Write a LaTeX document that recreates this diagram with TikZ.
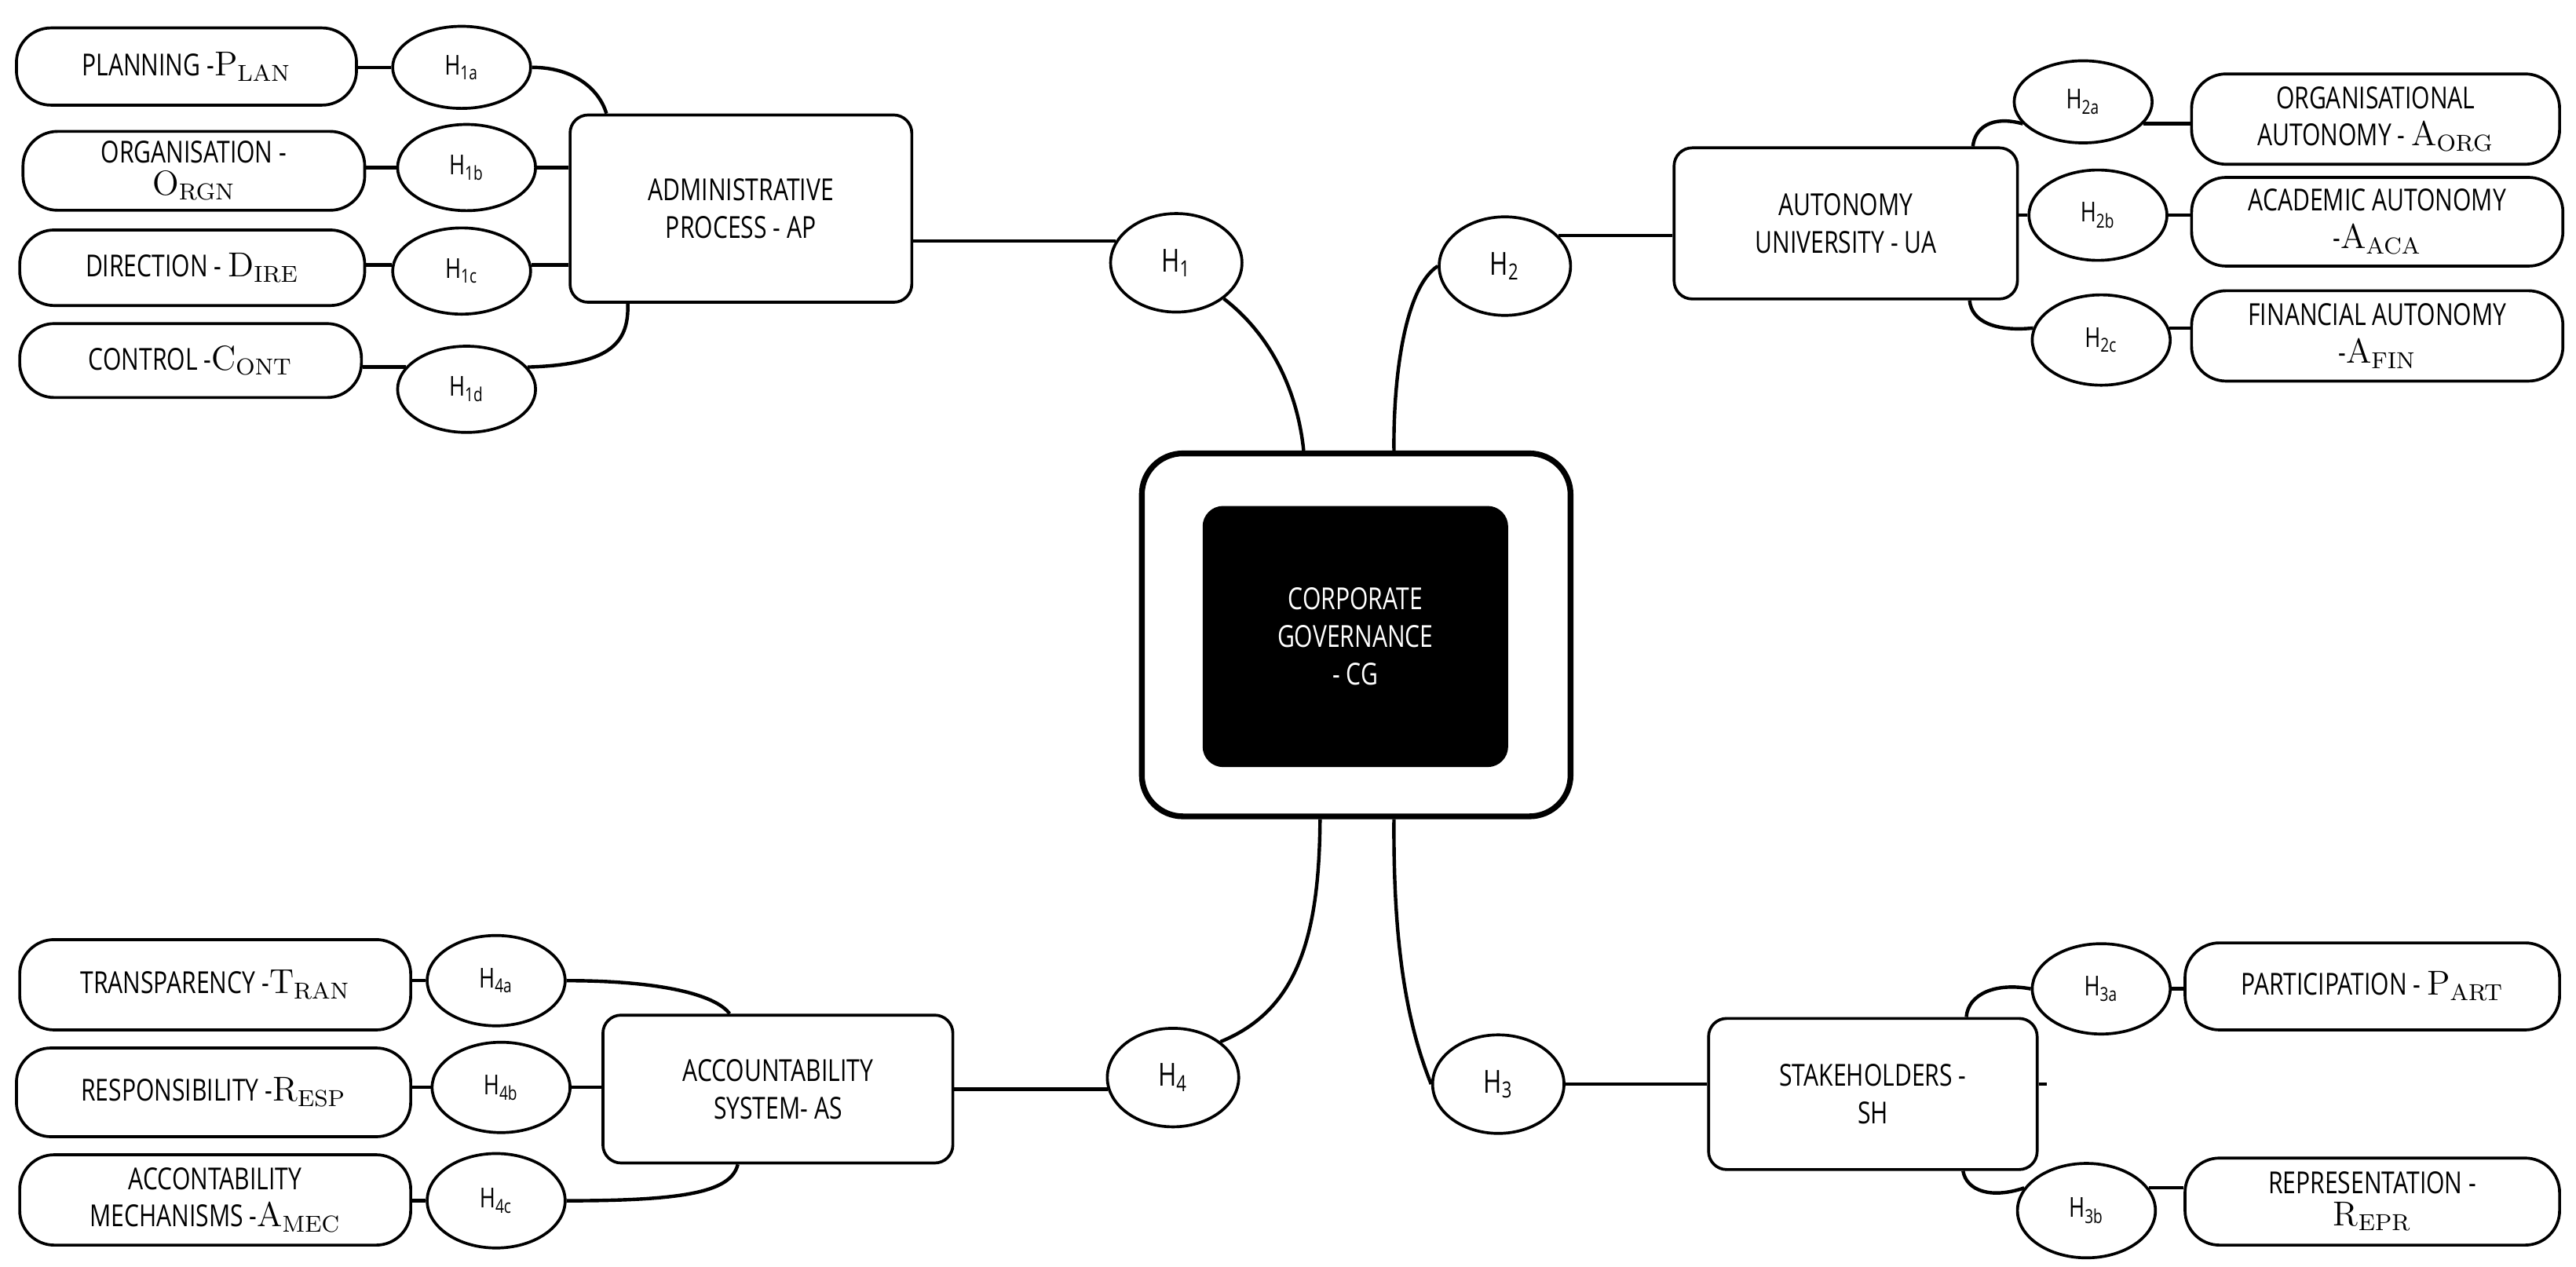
\documentclass[tikz,border=0pt]{standalone}
\usepackage{fontspec}
\usetikzlibrary{shapes.geometric}
\setsansfont{Open Sans}[FakeStretch=0.78]
\newcommand{\sbx}[2]{{\rmfamily\fontsize{12}{12}\selectfont #1\textsubscript{\fontsize{8}{8}\selectfont #2}}}
\begin{document}
\begin{tikzpicture}[x=0.02cm,y=-0.02cm,
  every node/.style={font=\sffamily\fontsize{10.5}{13}\selectfont, align=center, inner sep=1pt},
  leaf/.style={draw, line width=1pt, rounded corners=0.42cm},
  mid/.style={draw, line width=1pt, rounded corners=0.22cm},
  hyp/.style={draw, ellipse, line width=1pt, inner sep=0pt, font=\sffamily\fontsize{9.5}{11}\selectfont},
  big/.style={draw, ellipse, line width=1pt, inner sep=0pt, minimum width=1.6cm, minimum height=1.2cm, font=\sffamily\fontsize{11}{12}\selectfont},
  con/.style={line width=1.2pt}]
\useasboundingbox (0,0) rectangle (1568,771);
\newcommand{\bx}[7]{\node[#1, minimum width={(#4-#2)*0.02cm}, minimum height={(#5-#3)*0.02cm}] (#6) at ({(#2+#4)/2},{(#3+#5)/2}) {#7};}
\newcommand{\hy}[4]{\node[hyp, minimum width=1.68cm, minimum height=#4] (#1) at (#2) {#3};}
% centre
\node[draw, line width=2pt, rounded corners=0.5cm, minimum width=5.22cm, minimum height=4.42cm] (cg) at (825.5,386.5) {};
\node[fill=black, rounded corners=0.25cm, minimum width=3.72cm, minimum height=3.18cm, text=white, font=\sffamily\fontsize{10.5}{13}\selectfont] (cgi) at (825,387.5) {CORPORATE\\GOVERNANCE\\- CG};
% main boxes
\bx{mid}{347}{70}{555}{184}{ap}{ADMINISTRATIVE\\PROCESS - AP}
\bx{mid}{1019}{90}{1228}{182}{ua}{AUTONOMY\\UNIVERSITY - UA}
\bx{mid}{1040}{620}{1240}{712}{sh}{STAKEHOLDERS -\\SH}
\bx{mid}{367}{618}{580}{708}{as}{ACCOUNTABILITY\\SYSTEM- AS}
% H nodes
\node[big] (h1) at (716,160) {H\textsubscript{1}};
\node[big] (h2) at (916,162) {H\textsubscript{2}};
\node[big] (h3) at (912,660) {H\textsubscript{3}};
\node[big] (h4) at (714,656) {H\textsubscript{4}};
% leaves AP
\bx{leaf}{10}{17}{217}{64}{pl}{PLANNING -\sbx{P}{LAN}}
\bx{leaf}{14}{80}{222}{128}{or}{ORGANISATION -\\[-2pt]\sbx{O}{RGN}}
\bx{leaf}{12}{140}{222}{186}{di}{DIRECTION - \sbx{D}{IRE}}
\bx{leaf}{12}{197}{220}{242}{co}{CONTROL -\sbx{C}{ONT}}
\hy{h1a}{281,41}{H\textsubscript{1a}}{1.0cm}
\hy{h1b}{284,102}{H\textsubscript{1b}}{1.05cm}
\hy{h1c}{281,165}{H\textsubscript{1c}}{1.05cm}
\hy{h1d}{284,237}{H\textsubscript{1d}}{1.05cm}
% leaves UA
\bx{leaf}{1334}{45}{1558}{100}{ao}{ORGANISATIONAL\\AUTONOMY - \sbx{A}{ORG}}
\bx{leaf}{1334}{108}{1560}{162}{aa}{ACADEMIC AUTONOMY\\-\sbx{A}{ACA}}
\bx{leaf}{1334}{177}{1560}{232}{af}{FINANCIAL AUTONOMY\\-\sbx{A}{FIN}}
\hy{h2a}{1268,62}{H\textsubscript{2a}}{1.0cm}
\hy{h2b}{1277,131}{H\textsubscript{2b}}{1.1cm}
\hy{h2c}{1279,207}{H\textsubscript{2c}}{1.1cm}
% leaves SH
\bx{leaf}{1330}{574}{1558}{627}{pa}{PARTICIPATION - \sbx{P}{ART}}
\bx{leaf}{1330}{705}{1558}{758}{re}{REPRESENTATION -\\[-2pt]\sbx{R}{EPR}}
\hy{h3a}{1279,602}{H\textsubscript{3a}}{1.1cm}
\hy{h3b}{1270,737}{H\textsubscript{3b}}{1.15cm}
% leaves AS
\bx{leaf}{12}{572}{250}{627}{tr}{TRANSPARENCY -\sbx{T}{RAN}}
\bx{leaf}{10}{638}{250}{692}{rs}{RESPONSIBILITY -\sbx{R}{ESP}}
\bx{leaf}{12}{703}{250}{758}{am}{ACCONTABILITY\\MECHANISMS -\sbx{A}{MEC}}
\hy{h4a}{302,597}{H\textsubscript{4a}}{1.1cm}
\hy{h4b}{305,662}{H\textsubscript{4b}}{1.1cm}
\hy{h4c}{302,731}{H\textsubscript{4c}}{1.15cm}
% connectors centre
\draw[con] (h1.160) -- (ap.east |- h1.160);
\draw[con] (h1.south east) .. controls (775,205) and (790,240) .. ([xshift=-0.64cm]cg.north);
\draw[con] (h2.west) .. controls (855,175) and (848,230) .. ([xshift=0.46cm]cg.north);
\draw[con] (h2.30) -- (ua.west |- h2.30);
\draw[con] ([xshift=0.46cm]cg.south) .. controls (848,570) and (855,620) .. (h3.west);
\draw[con] (h3.east) -- (sh.west |- h3.east);
\draw[con] ([xshift=-0.44cm]cg.south) .. controls (803,570) and (790,615) .. (h4.north east);
\draw[con] (h4.190) -- (as.east |- h4.190);
% AP connectors
\draw[con] (pl.east |- h1a.west) -- (h1a.west);
\draw[con] (h1a.east) .. controls (350,41) and (365,55) .. ([xshift=0.46cm]ap.north west);
\draw[con] (or.east |- h1b.west) -- (h1b.west);
\draw[con] (h1b.east) -- (ap.west |- h1b.east);
\draw[con] (di.east |- h1c.175) -- (h1c.175);
\draw[con] (h1c.5) -- (ap.west |- h1c.5);
\draw[con] (co.east |- h1d.160) -- (h1d.160);
\draw[con] (h1d.20) .. controls (370,222) and (383,210) .. ([xshift=0.72cm]ap.south west);
% UA connectors
\draw[con] ([xshift=-0.56cm]ua.north east) .. controls (1202,78) and (1212,70) .. (h2a.200);
\draw[con] (h2a.340) -- (ao.west |- h2a.340);
\draw[con] (ua.east |- h2b.west) -- (h2b.west);
\draw[con] (h2b.east) -- (aa.west |- h2b.east);
\draw[con] ([xshift=-0.6cm]ua.south east) .. controls (1200,196) and (1215,202) .. (h2c.170);
\draw[con] (h2c.10) -- (af.west |- h2c.10);
% SH connectors
\draw[con] ([xshift=-0.88cm]sh.north east) .. controls (1198,605) and (1215,598) .. (h3a.west);
\draw[con] (h3a.east) -- (pa.west |- h3a.east);
\draw[con] (sh.east |- h3.east) -- ++(5,0);
\draw[con] ([xshift=-0.92cm]sh.south east) .. controls (1197,725) and (1212,730) .. (h3b.160);
\draw[con] (h3b.20) -- (re.west |- h3b.20);
% AS connectors
\draw[con] (tr.east |- h4a.west) -- (h4a.west);
\draw[con] (h4a.east) .. controls (400,597) and (435,605) .. ([xshift=1.56cm]as.north west);
\draw[con] (rs.east |- h4b.west) -- (h4b.west);
\draw[con] (h4b.east) -- (as.west |- h4b.east);
\draw[con] (am.east |- h4c.west) -- (h4c.west);
\draw[con] (h4c.east) .. controls (420,731) and (445,725) .. ([xshift=1.66cm]as.south west);
\end{tikzpicture}
\end{document}
